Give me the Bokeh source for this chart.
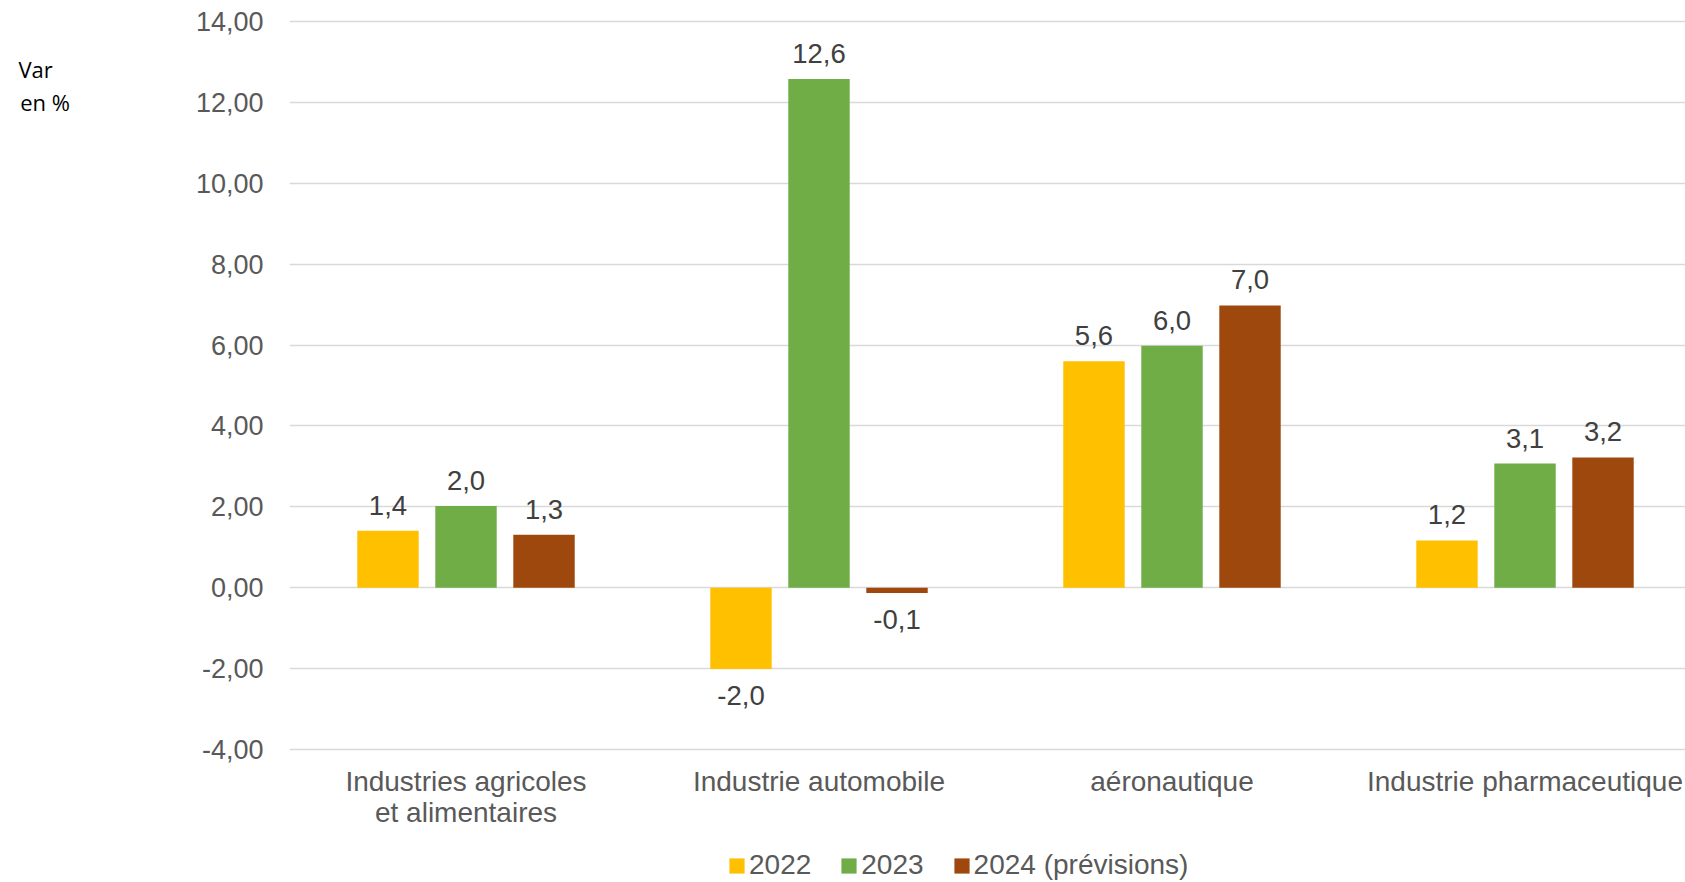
from bokeh.plotting import figure
from bokeh.models import (ColumnDataSource, FixedTicker, Legend, LegendItem, Range1d)
from bokeh.core.properties import value
from bokeh.embed import file_html
from bokeh.resources import INLINE

categories = ["Industries agricoles\net alimentaires", "Industrie automobile",
              "aéronautique", "Industrie pharmaceutique"]
series_names = ["2022", "2023", "2024 (prévisions)"]
v2022 = [1.41, -2.01, 5.60, 1.17]
v2023 = [2.02, 12.58, 5.98, 3.07]
v2024 = [1.31, -0.13, 6.98, 3.22]
colors = ["#FFC000", "#70AD47", "#9E480E"]
y_ticks = [-4, -2, 0, 2, 4, 6, 8, 10, 12, 14]

FONT = "Liberation Sans"
GREY = "#595959"

PX_PER_UNIT = 732 / 18.1
Y_TOP = 14.05
Y_BOTTOM = Y_TOP - 863 / PX_PER_UNIT

p = figure(frame_width=1396, frame_height=863, min_border_left=289, min_border_right=0,
           min_border_top=19, min_border_bottom=0, output_backend="svg", toolbar_location=None,
           x_range=Range1d(0, 1396 / 353), y_range=Range1d(Y_BOTTOM, Y_TOP))
p.outline_line_color = None
p.background_fill_color = "white"
p.border_fill_color = "white"

offsets = [-0.221, 0.0, 0.221]
renderers = []
for s, (vals, col, off) in enumerate(zip([v2022, v2023, v2024], colors, offsets)):
    xs = [i + 0.5 + off for i in range(len(categories))]
    labels = [f"{v:.1f}".replace(".", ",") for v in vals]
    src = ColumnDataSource(dict(x=xs, top=vals, lab=labels))
    r = p.vbar(x="x", top="top", bottom=0, width=0.174, source=src, fill_color=col, line_color=None)
    renderers.append(r)
    pos = ColumnDataSource(dict(x=[x for x, v in zip(xs, vals) if v >= 0],
                                y=[v for v in vals if v >= 0],
                                lab=[l for l, v in zip(labels, vals) if v >= 0]))
    neg = ColumnDataSource(dict(x=[x for x, v in zip(xs, vals) if v < 0],
                                y=[v for v in vals if v < 0],
                                lab=[l for l, v in zip(labels, vals) if v < 0]))
    p.text(x="x", y="y", text="lab", source=pos, text_align="center", text_baseline="bottom",
           y_offset=-16, text_font=value(FONT), text_font_size="27.5px", text_color="#404040")
    p.text(x="x", y="y", text="lab", source=neg, text_align="center", text_baseline="top",
           y_offset=17.5, text_font=value(FONT), text_font_size="27.5px", text_color="#404040")

# y axis
p.yaxis.ticker = FixedTicker(ticks=y_ticks)
p.yaxis.major_label_overrides = {t: f"{t:.2f}".replace(".", ",") for t in y_ticks}
p.yaxis.axis_line_color = None
p.yaxis.major_tick_line_color = None
p.yaxis.minor_tick_line_color = None
p.yaxis.major_tick_out = 0
p.yaxis.major_tick_in = 0
p.yaxis.minor_tick_out = 0
p.yaxis.major_label_standoff = 26
p.yaxis.major_label_text_font = FONT
p.yaxis.major_label_text_font_size = "27px"
p.yaxis.major_label_text_color = GREY
p.yaxis.axis_label = " \n \n \n \nVar\u00a0\u00a0\u00a0\nen %"
p.yaxis.axis_label_text_font = "Open Sans"
p.yaxis.axis_label_text_font_size = "22px"
p.yaxis.axis_label_text_font_style = "normal"
p.yaxis.axis_label_text_color = "black"
p.yaxis.axis_label_text_line_height = 1.1
p.yaxis.axis_label_standoff = 123
try:
    p.yaxis.axis_label_orientation = "horizontal"
except Exception:
    pass
try:
    p.yaxis.axis_label_align = "end"
except Exception:
    pass

# x axis, drawn at the bottom of the value area
p.xaxis.fixed_location = -4.05
p.xaxis.ticker = FixedTicker(ticks=[i + 0.5 for i in range(len(categories))])
p.xaxis.major_label_overrides = {i + 0.5: c for i, c in enumerate(categories)}
p.xaxis.axis_line_color = None
p.xaxis.major_tick_line_color = None
p.xaxis.minor_tick_line_color = None
p.xaxis.major_tick_out = 0
p.xaxis.major_tick_in = 0
p.xaxis.minor_tick_out = 0
p.xaxis.major_label_standoff = 14
p.xaxis.major_label_text_font = FONT
p.xaxis.major_label_text_font_size = "28px"
p.xaxis.major_label_text_color = GREY
p.xaxis.major_label_text_line_height = 1.03

p.xgrid.grid_line_color = None
p.ygrid.grid_line_color = "#D9D9D9"
p.ygrid.grid_line_width = 1.5

legend = Legend(items=[LegendItem(label=n, renderers=[r]) for n, r in zip(series_names, renderers)],
                orientation="horizontal", location=(438, 1),
                glyph_width=19, glyph_height=19, label_standoff=3, spacing=28,
                label_text_font=FONT, label_text_font_size="28px", label_text_color=GREY,
                border_line_color=None, background_fill_alpha=0, padding=0, margin=0)
p.add_layout(legend, "center")

open("out.html", "w").write(file_html(p, INLINE))
